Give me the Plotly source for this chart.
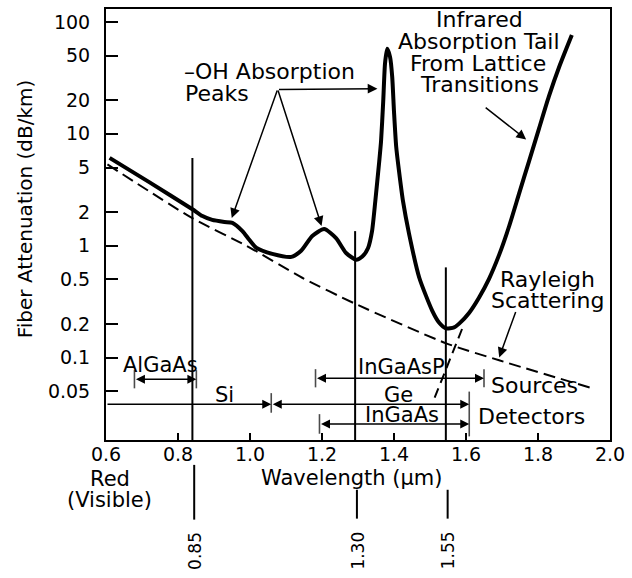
import math
import plotly.graph_objects as go

# ---------------- data ----------------
# measured fiber attenuation (dB/km) vs wavelength (um)
wl_loss = [0.61, 0.72, 0.84, 0.868, 0.895, 0.929, 0.951, 0.979, 0.998, 1.018,
           1.062, 1.115, 1.142, 1.173, 1.206, 1.239, 1.267, 1.295, 1.312, 1.328,
           1.339, 1.348, 1.359, 1.364, 1.370, 1.375, 1.381, 1.389, 1.395, 1.400,
           1.406, 1.414, 1.425, 1.442, 1.470, 1.506, 1.525, 1.545, 1.567, 1.581,
           1.609, 1.636, 1.664, 1.692, 1.720, 1.747, 1.775, 1.803, 1.830, 1.861,
           1.894]
loss = [6.1, 3.7, 2.12, 1.84, 1.70, 1.63, 1.60, 1.35, 1.13, 0.955,
        0.845, 0.795, 0.90, 1.22, 1.41, 1.17, 0.86, 0.75, 0.80, 0.955,
        1.35, 2.49, 5.68, 8.55, 19.4, 42.3, 57.5, 48.8, 32.4, 15.8,
        7.73, 4.63, 2.50, 1.27, 0.52, 0.263, 0.206, 0.182, 0.186, 0.201,
        0.252, 0.343, 0.506, 0.828, 1.50, 2.89, 5.68, 11.2, 21.5, 41.4,
        76.6]

# Rayleigh scattering limit (dashed)
wl_rayleigh = [0.604, 0.84, 0.99, 1.145, 1.292, 1.545, 1.692, 1.95]
rayleigh = [5.33, 1.76, 1.0, 0.517, 0.303, 0.134, 0.0945, 0.0532]

# extrapolated infrared tail (short dashed segment)
wl_ir_extrap = [1.589, 1.512]
ir_extrap = [0.18, 0.043]

# operating windows (vertical lines)
window_wl = [0.84, 1.292, 1.544]
window_top = [6.08, 1.35, 0.64]
window_labels = ["0.85", "1.30", "1.55"]

# source / detector wavelength bands
bands = ["AlGaAs", "Si", "Ge", "InGaAsP", "InGaAs"]
band_start = [0.679, 0.60, 1.059, 1.182, 1.193]
band_end = [0.851, 1.059, 1.609, 1.650, 1.609]
band_level = [0.064, 0.0383, 0.0383, 0.0653, 0.0255]
band_side = ["end+start", "end", "end+start", "end+start", "end+start"]

# end bars of the bands
bar_wl = [0.679, 0.851, 1.059, 1.182, 1.650, 1.193, 1.609]
bar_level = [0.064, 0.064, 0.0393, 0.0653, 0.0653, 0.0255, 0.0313]
bar_size = [13, 13, 14, 13, 13, 14, 32]

x_ticks = [0.6, 0.8, 1.0, 1.2, 1.4, 1.6, 1.8, 2.0]
x_ticktext = ["0.6", "0.8", "1.0", "1.2", "1.4", "1.6", "1.8", "2.0"]
y_ticks = [0.05, 0.1, 0.2, 0.5, 1, 2, 5, 10, 20, 50, 100]
y_ticktext = ["0.05", "0.1", "0.2", "0.5", "1", "2", "5", "10", "20", "50", "100"]

# ---------------- layout geometry ----------------
W, H = 632, 578
ML, MR, MT, MB = 106, 21, 7, 138
PW, PH = W - ML - MR, H - MT - MB
FONT = "DejaVu Sans"
Y_RANGE = [-1.737, 2.116]


def P(xp, yp):
    """pixel position -> paper coordinates"""
    return (xp - ML) / PW, (MT + PH - yp) / PH


fig = go.Figure()

# vertical window lines inside the plot
for wl, top in zip(window_wl, window_top):
    fig.add_trace(go.Scatter(x=[wl, wl], y=[0.01, top], mode="lines",
                             line=dict(color="black", width=2),
                             hoverinfo="skip", showlegend=False))

# rayleigh dashed
fig.add_trace(go.Scatter(x=wl_rayleigh, y=rayleigh, mode="lines",
                         line=dict(color="black", width=2, dash="12px,6px",
                                   shape="spline", smoothing=0.6),
                         showlegend=False))
fig.add_trace(go.Scatter(x=wl_ir_extrap, y=ir_extrap, mode="lines",
                         line=dict(color="black", width=2, dash="10px,6px"),
                         showlegend=False))

# measured loss
fig.add_trace(go.Scatter(x=wl_loss, y=loss, mode="lines",
                         line=dict(color="black", width=4,
                                   shape="spline", smoothing=0.6),
                         showlegend=False))

# band end bars
fig.add_trace(go.Scatter(x=bar_wl, y=bar_level, mode="markers",
                         marker=dict(symbol="line-ns", size=bar_size,
                                     line=dict(color="black", width=1.6)),
                         hoverinfo="skip", showlegend=False))

ann = []


def text(t, xp, yp, anchor="center", size=22, angle=0):
    px, py = P(xp, yp)
    ann.append(dict(text=t, x=px, y=py, xref="paper", yref="paper",
                    xanchor=anchor, yanchor="middle", showarrow=False,
                    textangle=angle,
                    font=dict(family=FONT, size=size, color="black")))


def arrow(tail, head):
    hx, hy = P(*head)
    ann.append(dict(text="", x=hx, y=hy, xref="paper", yref="paper",
                    ax=tail[0] - head[0], ay=tail[1] - head[1],
                    showarrow=True, arrowhead=2, arrowsize=1.3,
                    arrowwidth=1.5, arrowcolor="black", standoff=0))


# band arrows (data coordinates)
for name, s, e, lv, side in zip(bands, band_start, band_end, band_level, band_side):
    ly = math.log10(lv)
    ann.append(dict(text="", x=e, y=ly, xref="x", yref="y",
                    ax=s, ay=ly, axref="x", ayref="y",
                    showarrow=True, arrowhead=2, arrowsize=1.2,
                    arrowwidth=1.5, arrowcolor="black", arrowside=side,
                    standoff=0, startstandoff=0))

text("\u2013OH Absorption", 182, 70, "left")
text("Peaks", 183, 92, "left")
arrow((278, 88), (232, 217))
arrow((278, 88), (322, 225))
arrow((278, 88), (378, 87))

text("Infrared", 480, 18)
text("Absorption Tail", 480, 40)
text("From Lattice", 479, 62)
text("Transitions", 480, 83)
arrow((485, 105), (527, 138))

text("Rayleigh", 548, 279)
text("Scattering", 548, 300)
arrow((517, 310), (500, 357))

text("AlGaAs", 161, 365, size=21)
text("Si", 225, 395, size=21)
text("InGaAsP", 402, 367, size=21)
text("Ge", 399, 395, size=21)
text("InGaAs", 403, 415, size=21)
text("Sources", 490, 385, "left")
text("Detectors", 477, 416, "left")

text("Red", 110, 479, size=21)
text("(Visible)", 110, 500, size=21)
text("Wavelength (\u00b5m)", 352, 478, size=21)
text("Fiber Attenuation (dB/km)", 25, 208, size=20, angle=-90)

# window labels below the axis
for wl, lab in zip(window_wl, window_labels):
    xp = ML + (wl - 0.6) / 1.4 * PW + 3
    text(lab, xp, 551, size=17, angle=-90)

# stubs of window lines below the axis
shapes = []
stub = {0.84: (465, 520), 1.292: (490, 519), 1.544: (490, 519)}
for wl in window_wl:
    y0, y1 = stub[wl]
    shapes.append(dict(type="line", xref="x", yref="paper", x0=wl + 0.005, x1=wl + 0.005,
                       y0=P(0, y0)[1], y1=P(0, y1)[1],
                       line=dict(color="black", width=2)))

fig.update_layout(
    width=W, height=H,
    margin=dict(l=ML, r=MR, t=MT, b=MB),
    paper_bgcolor="white", plot_bgcolor="white",
    annotations=ann, shapes=shapes,
    font=dict(family=FONT, color="black"),
    showlegend=False,
)
fig.update_xaxes(range=[0.6, 2.0], tickvals=x_ticks, ticktext=x_ticktext,
                 ticks="inside", ticklen=7, tickwidth=2, tickcolor="black",
                 showline=True, linecolor="black", linewidth=2, mirror=True,
                 showgrid=False, zeroline=False, ticklabelstandoff=-4,
                 tickfont=dict(family=FONT, size=19, color="black"))
fig.update_yaxes(type="log", range=Y_RANGE, tickvals=y_ticks, ticktext=y_ticktext,
                 ticks="inside", ticklen=12, tickwidth=2, tickcolor="black",
                 showline=True, linecolor="black", linewidth=2, mirror=True,
                 showgrid=False, zeroline=False, ticklabelstandoff=10,
                 tickfont=dict(family=FONT, size=19, color="black"))

fig.write_html("out.html", config={"displayModeBar": False},
               post_script="document.body.style.margin='0';")
